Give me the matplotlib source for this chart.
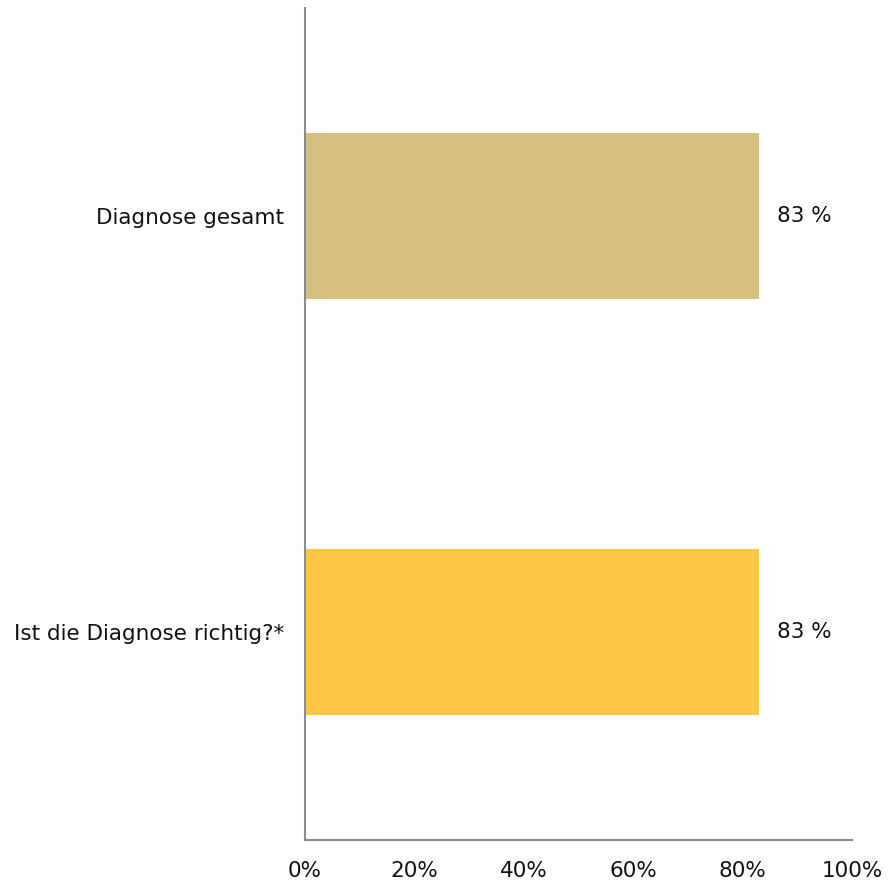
import matplotlib
matplotlib.use('Agg')
import matplotlib.pyplot as plt

# data
categories = ['Ist die Diagnose richtig?*', 'Diagnose gesamt']
values = [83, 83]
value_labels = ['83 %', '83 %']
colors = ['#FEC643', '#D7BF80']
xticks = [0, 20, 40, 60, 80, 100]
xtick_labels = ['0%', '20%', '40%', '60%', '80%', '100%']

plt.rcParams['font.family'] = ['DejaVu Sans']
fs = 15.5

fig = plt.figure(figsize=(8.88, 8.80), dpi=100)
ax = fig.add_axes([305/888, 40/880, 547/888, 832/880])

ypos = list(range(len(categories)))
ax.barh(ypos, values, height=0.4, color=colors)
for y, v, lab in zip(ypos, values, value_labels):
    ax.text(v + 3.2, y, lab, va='center', ha='left', fontsize=fs, color='#111111')

ax.set_xlim(0, 100)
ax.set_ylim(-0.5, 1.5)
ax.set_yticks(ypos)
ax.set_yticklabels(categories, fontsize=fs, color='#111111')
ax.set_xticks(xticks)
ax.set_xticklabels(xtick_labels, fontsize=fs, color='#111111')
ax.tick_params(axis='both', length=0)
ax.tick_params(axis='y', pad=15)
ax.tick_params(axis='x', pad=15)

for s in ['top', 'right']:
    ax.spines[s].set_visible(False)
for s in ['left', 'bottom']:
    ax.spines[s].set_color('#8c8c8c')
    ax.spines[s].set_linewidth(1.5)

fig.savefig('out.png', dpi=100)
